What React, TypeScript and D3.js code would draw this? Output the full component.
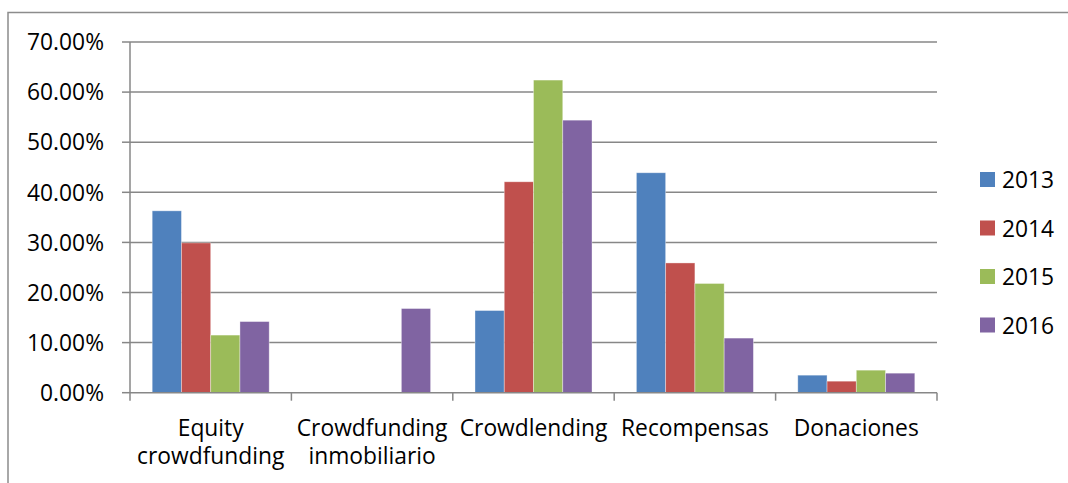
import React, { useEffect, useRef } from "react";
import * as d3 from "d3";

const categories = [
  ["Equity", "crowdfunding"],
  ["Crowdfunding", "inmobiliario"],
  ["Crowdlending"],
  ["Recompensas"],
  ["Donaciones"],
];
const seriesNames = ["2013", "2014", "2015", "2016"];
const seriesColors = ["#4F81BD", "#C0504D", "#9BBB59", "#8064A2"];
const values2013 = [0.363, 0, 0.164, 0.439, 0.035];
const values2014 = [0.299, 0, 0.421, 0.259, 0.023];
const values2015 = [0.115, 0, 0.624, 0.218, 0.045];
const values2016 = [0.142, 0.168, 0.544, 0.109, 0.039];
const yTicks = [0, 0.1, 0.2, 0.3, 0.4, 0.5, 0.6, 0.7];

const W = 1068;
const H = 483;
const FONT = "'Open Sans', sans-serif";
const FONT_SIZE = 22.8;

export default function App() {
  const ref = useRef<SVGSVGElement>(null);

  useEffect(() => {
    const svg = d3.select(ref.current);
    svg.selectAll("*").remove();

    const seriesValues = [values2013, values2014, values2015, values2016];
    const plot = { left: 130, right: 937, top: 42, bottom: 392.7 };

    // outer chart frame (only top and left edges fall inside the view)
    svg.append("path")
      .attr("d", `M8,${H} V12.5 H${W}`)
      .attr("fill", "none")
      .attr("stroke", "#8c8c8c")
      .attr("stroke-width", 1.5);

    const x = d3.scaleBand<number>()
      .domain(d3.range(categories.length))
      .range([plot.left, plot.right]);
    const bw = x.bandwidth();
    const gap = bw * 0.1375;
    const xs = d3.scaleBand<number>()
      .domain(d3.range(seriesNames.length))
      .range([gap, bw - gap]);
    const y = d3.scaleLinear().domain([0, 0.7]).range([plot.bottom, plot.top]);

    // horizontal gridlines
    svg.append("g")
      .selectAll("line")
      .data(yTicks.filter((t) => t > 0))
      .join("line")
      .attr("x1", plot.left)
      .attr("x2", plot.right)
      .attr("y1", (d) => y(d))
      .attr("y2", (d) => y(d))
      .attr("stroke", "#878787")
      .attr("stroke-width", 1.5);

    // bars
    seriesValues.forEach((vals, si) => {
      svg.append("g")
        .selectAll("rect")
        .data(vals)
        .join("rect")
        .attr("x", (_, i) => (x(i) as number) + (xs(si) as number))
        .attr("width", xs.bandwidth())
        .attr("y", (d) => y(d))
        .attr("height", (d) => plot.bottom - y(d))
        .attr("fill", seriesColors[si])
        .attr("stroke", "rgba(255,255,255,0.45)")
        .attr("stroke-width", 0.8);
    });

    // y axis line and ticks
    const axisColor = "#878787";
    svg.append("line")
      .attr("x1", plot.left).attr("x2", plot.left)
      .attr("y1", plot.top).attr("y2", plot.bottom)
      .attr("stroke", axisColor).attr("stroke-width", 1.5);
    svg.append("g")
      .selectAll("line")
      .data(yTicks)
      .join("line")
      .attr("x1", plot.left - 8)
      .attr("x2", plot.left)
      .attr("y1", (d) => y(d))
      .attr("y2", (d) => y(d))
      .attr("stroke", axisColor)
      .attr("stroke-width", 1.5);
    svg.append("g")
      .selectAll("text")
      .data(yTicks)
      .join("text")
      .attr("x", 104)
      .attr("y", (d) => y(d))
      .attr("dy", "0.36em")
      .attr("text-anchor", "end")
      .attr("font-family", FONT)
      .attr("font-size", FONT_SIZE)
      .attr("fill", "#000")
      .text((d) => d3.format(".2%")(d));

    // x axis line and category ticks
    svg.append("line")
      .attr("x1", plot.left).attr("x2", plot.right)
      .attr("y1", plot.bottom).attr("y2", plot.bottom)
      .attr("stroke", axisColor).attr("stroke-width", 1.5);
    svg.append("g")
      .selectAll("line")
      .data(d3.range(categories.length + 1))
      .join("line")
      .attr("x1", (i) => plot.left + i * bw)
      .attr("x2", (i) => plot.left + i * bw)
      .attr("y1", plot.bottom)
      .attr("y2", plot.bottom + 8)
      .attr("stroke", axisColor)
      .attr("stroke-width", 1.5);

    const labels = svg.append("g")
      .selectAll("text")
      .data(categories)
      .join("text")
      .attr("text-anchor", "middle")
      .attr("font-family", FONT)
      .attr("font-size", FONT_SIZE)
      .attr("fill", "#000")
      .attr("transform", (_, i) => `translate(${(x(i) as number) + bw / 2},436)`);
    labels.selectAll("tspan")
      .data((d) => d)
      .join("tspan")
      .attr("x", 0)
      .attr("y", (_, j) => j * 28)
      .text((d) => d);

    // legend
    const legend = svg.append("g")
      .selectAll("g")
      .data(seriesNames)
      .join("g")
      .attr("transform", (_, i) => `translate(980,${172 + i * 48.5})`);
    legend.append("rect")
      .attr("width", 15)
      .attr("height", 15)
      .attr("fill", (_, i) => seriesColors[i]);
    legend.append("text")
      .attr("x", 22)
      .attr("y", 16.3)
      .attr("font-family", FONT)
      .attr("font-size", FONT_SIZE)
      .attr("fill", "#000")
      .text((d) => d);
  }, []);

  return (
    <div style={{ position: "fixed", left: 0, top: 0 }}>
      <svg ref={ref} width={W} height={H} style={{ display: "block", background: "#fff" }} />
    </div>
  );
}
